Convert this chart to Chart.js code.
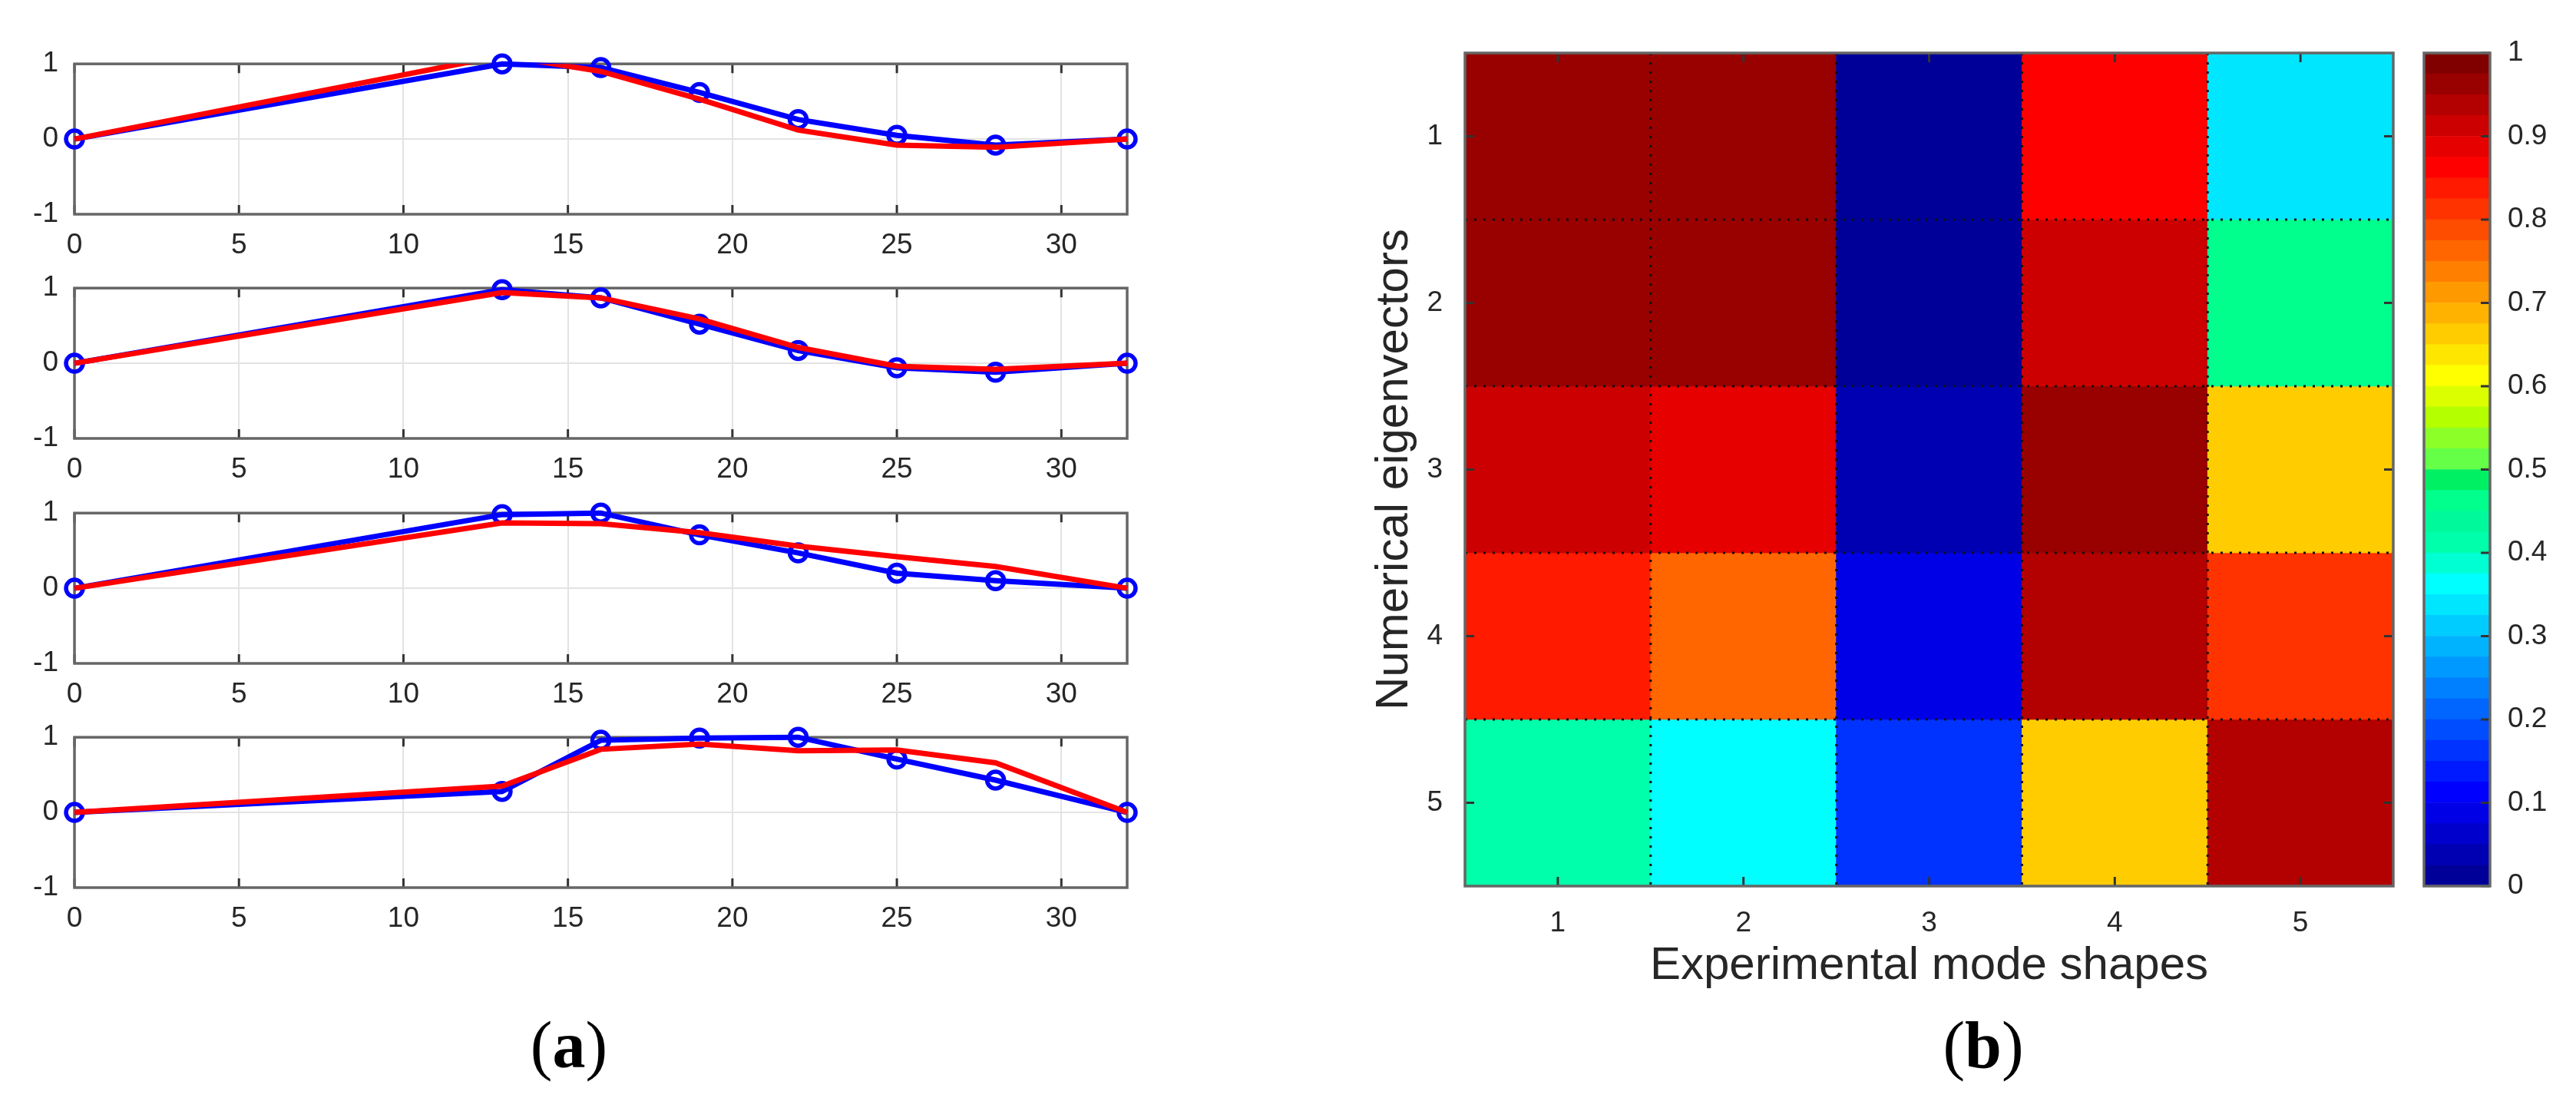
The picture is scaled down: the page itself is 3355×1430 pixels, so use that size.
<!DOCTYPE html>
<html>
<head>
<meta charset="utf-8">
<title>Mode shapes and MAC matrix</title>
<script src="https://cdn.jsdelivr.net/npm/chart.js@4.4.1/dist/chart.umd.min.js"></script>
<style>
  html, body { margin: 0; padding: 0; background: #fff; }
  body { width: 3355px; height: 1430px; position: relative; overflow: hidden; }
  canvas { position: absolute; }
  .panel-label {
    position: absolute; width: 200px; text-align: center;
    font-family: 'Liberation Serif', 'Times New Roman', serif;
    font-size: 86px; line-height: 1; color: #000;
    transform: translate(-50%, -50%);
  }
</style>
</head>
<body>
<canvas id="mode1" width="1500" height="299" style="left:0;top:40px"></canvas>
<canvas id="mode2" width="1500" height="299" style="left:0;top:332px"></canvas>
<canvas id="mode3" width="1500" height="299" style="left:0;top:625px"></canvas>
<canvas id="mode4" width="1500" height="299" style="left:0;top:917px"></canvas>
<canvas id="mac" width="1480" height="1320" style="left:1700px;top:0"></canvas>
<canvas id="colorbar" width="215" height="1320" style="left:3140px;top:0"></canvas>
<div class="panel-label" style="left:741px;top:1361px">(<b>a</b>)</div>
<div class="panel-label" style="left:2583px;top:1361px">(<b>b</b>)</div>

<script>
// stations along the structure where the mode shapes are sampled
const stations = [0, 13, 16, 19, 22, 25, 28, 32];

// blue = measured (with markers), red = numerical
const measured1 = [0, 1.00, 0.95, 0.62, 0.26, 0.05, -0.08, 0];
const numerical1 = [0, 1.11, 0.90, 0.53, 0.12, -0.08, -0.11, 0];
const measured2 = [0, 0.98, 0.87, 0.52, 0.17, -0.06, -0.12, 0];
const numerical2 = [0, 0.94, 0.87, 0.59, 0.21, -0.04, -0.08, 0];
const measured3 = [0, 0.98, 1.00, 0.71, 0.47, 0.20, 0.10, 0];
const numerical3 = [0, 0.87, 0.86, 0.74, 0.56, 0.42, 0.29, 0];
const measured4 = [0, 0.28, 0.96, 0.99, 1.00, 0.71, 0.43, 0];
const numerical4 = [0, 0.35, 0.84, 0.91, 0.82, 0.83, 0.66, 0];

const xTicks = [0, 5, 10, 15, 20, 25, 30];
const yTicks = [-1, 0, 1];

// MAC values: rows = numerical eigenvectors, columns = experimental mode shapes
const modeLabels = ['1', '2', '3', '4', '5'];
const mac1 = [0.96, 0.96, 0.01, 0.86, 0.34];
const mac2 = [0.96, 0.96, 0.01, 0.91, 0.46];
const mac3 = [0.91, 0.89, 0.04, 0.96, 0.66];
const mac4 = [0.84, 0.76, 0.09, 0.94, 0.81];
const mac5 = [0.41, 0.36, 0.16, 0.66, 0.94];
const colorbarTicks = [0, 0.1, 0.2, 0.3, 0.4, 0.5, 0.6, 0.7, 0.8, 0.9, 1];

const FONT = "'Liberation Sans', Arial, Helvetica, sans-serif";
const TEXT = '#262626';
Chart.defaults.font.family = FONT;
Chart.defaults.color = TEXT;

// MATLAB style jet colormap with m bands
function jet(m) {
    const n = Math.ceil(m / 4);
    const u = [];
    for (let i = 1; i <= n; i++) u.push(i / n);
    for (let i = 1; i < n; i++) u.push(1);
    for (let i = n; i >= 1; i--) u.push(i / n);
    const g0 = Math.ceil(n / 2) - (m % 4 === 1 ? 1 : 0);
    const cmap = Array.from({ length: m }, () => [0, 0, 0]);
    u.forEach((val, k) => {
        const g = g0 + k + 1;
        const r = g + n;
        const b = g - n;
        if (g >= 1 && g <= m) cmap[g - 1][1] = val;
        if (r >= 1 && r <= m) cmap[r - 1][0] = val;
        if (b >= 1 && b <= m) cmap[b - 1][2] = val;
    });
    return cmap;
}

const palette = jet(40).map(c => 'rgb(' + c.map(v => Math.round(v * 255)).join(',') + ')');
// the printed figure shows these greens without the blue/red mix
const toneFix = { 16: '#00ffd2', 17: '#00ffaa', 18: '#00fa9b', 19: '#00ff8c', 20: '#00f064',
                  21: '#64ff46', 22: '#8cff28', 23: '#b4ff00', 24: '#dcff00' };
Object.entries(toneFix).forEach(([band, c]) => { palette[band - 1] = c; });
const colorFor = v => palette[Math.min(palette.length - 1, Math.floor(v * palette.length))];

// box, inward tick marks and dotted cell borders
function drawFrame(chart, opts) {
    const { ctx, chartArea: a, scales } = chart;
    const len = 12;
    ctx.save();
    if (opts.dotted) {
        ctx.strokeStyle = '#111';
        ctx.lineWidth = 3;
        ctx.setLineDash([3, 9]);
        ctx.beginPath();
        const x = scales.x;
        for (let i = 0; i < x.ticks.length - 1; i++) {
            const px = (x.getPixelForTick(i) + x.getPixelForTick(i + 1)) / 2;
            ctx.moveTo(px, a.top);
            ctx.lineTo(px, a.bottom);
        }
        scales.y.ticks.slice(0, -1).forEach(t => {
            const py = scales.y.getPixelForValue(t.value + 0.5);
            ctx.moveTo(a.left, py);
            ctx.lineTo(a.right, py);
        });
        ctx.stroke();
        ctx.setLineDash([]);
    }
    ctx.strokeStyle = '#333';
    ctx.lineWidth = 3;
    ctx.beginPath();
    if (opts.xTicks) {
        scales.x.ticks.forEach((t, i) => {
            const px = scales.x.getPixelForTick(i);
            ctx.moveTo(px, a.top); ctx.lineTo(px, a.top + len);
            ctx.moveTo(px, a.bottom); ctx.lineTo(px, a.bottom - len);
        });
    }
    if (opts.yTicks) {
        scales.y.ticks.forEach((t, i) => {
            const py = scales.y.getPixelForTick(i);
            if (opts.yTicks !== 'right') { ctx.moveTo(a.left, py); ctx.lineTo(a.left + len, py); }
            ctx.moveTo(a.right, py); ctx.lineTo(a.right - len, py);
        });
    }
    ctx.stroke();
    ctx.strokeStyle = '#666';
    ctx.lineWidth = 3.5;
    ctx.strokeRect(a.left, a.top, a.right - a.left, a.bottom - a.top);
    ctx.restore();
}

const framePlugin = {
    id: 'frame',
    beforeDatasetsDraw(chart, args, opts) { if (!opts.onTop) drawFrame(chart, opts); },
    afterDatasetsDraw(chart, args, opts) { if (opts.onTop) drawFrame(chart, opts); }
};

const tickFont = size => ({ family: FONT, size: size });

function modeChart(id, measured, numerical) {
    new Chart(document.getElementById(id), {
        type: 'line',
        data: {
            datasets: [
                {
                    data: stations.map((x, i) => ({ x: x, y: numerical[i] })),
                    borderColor: '#ff0000',
                    borderWidth: 7,
                    pointRadius: 0,
                    order: 0,
                    clip: { left: 10, top: 0, right: 10, bottom: 0 }
                },
                {
                    data: stations.map((x, i) => ({ x: x, y: measured[i] })),
                    borderColor: '#0000ff',
                    borderWidth: 7,
                    pointRadius: 11,
                    pointBorderWidth: 5.5,
                    pointBorderColor: '#0000ff',
                    pointBackgroundColor: 'rgba(0,0,0,0)',
                    order: 1,
                    clip: false
                }
            ]
        },
        options: {
            responsive: false,
            animation: false,
            devicePixelRatio: 1,
            layout: { padding: { top: 30, right: 32, left: 0, bottom: 0 } },
            plugins: {
                legend: { display: false },
                tooltip: { enabled: false },
                frame: { xTicks: true }
            },
            scales: {
                x: {
                    type: 'linear',
                    min: 0,
                    max: 32,
                    afterBuildTicks: s => { s.ticks = xTicks.map(v => ({ value: v })); },
                    afterFit: s => { s.height = 60; },
                    grid: { color: '#e3e3e3', lineWidth: 2, drawTicks: false },
                    border: { display: false },
                    ticks: { font: tickFont(37), color: TEXT, padding: 19, maxRotation: 0, autoSkip: false }
                },
                y: {
                    min: -1,
                    max: 1,
                    afterBuildTicks: s => { s.ticks = yTicks.map(v => ({ value: v })); },
                    afterFit: s => { s.width = 97; },
                    grid: { color: '#e3e3e3', lineWidth: 2, drawTicks: false },
                    border: { display: false },
                    ticks: { font: tickFont(37), color: TEXT, padding: 21 }
                }
            }
        },
        plugins: [framePlugin]
    });
}

modeChart('mode1', measured1, numerical1);
modeChart('mode2', measured2, numerical2);
modeChart('mode3', measured3, numerical3);
modeChart('mode4', measured4, numerical4);

// MAC matrix drawn as floating bars, one dataset per row
const macRows = [mac1, mac2, mac3, mac4, mac5];
new Chart(document.getElementById('mac'), {
    type: 'bar',
    data: {
        labels: modeLabels,
        datasets: macRows.map((row, r) => ({
            data: row.map(() => [r + 0.5, r + 1.5]),
            backgroundColor: row.map(colorFor),
            borderWidth: 0,
            grouped: false,
            barPercentage: 1,
            categoryPercentage: 1
        }))
    },
    options: {
        responsive: false,
        animation: false,
        devicePixelRatio: 1,
        layout: { padding: { top: 69, right: 63, left: 0, bottom: 0 } },
        plugins: {
            legend: { display: false },
            tooltip: { enabled: false },
            frame: { onTop: true, dotted: true, xTicks: true, yTicks: 'both' }
        },
        scales: {
            x: {
                grid: { display: false },
                border: { display: false },
                afterFit: s => { s.height = 166; },
                ticks: { font: tickFont(37), color: TEXT, padding: 19 },
                title: {
                    display: true,
                    text: 'Experimental mode shapes',
                    color: TEXT,
                    font: { family: FONT, size: 60 },
                    padding: { top: 0, bottom: 26 }
                }
            },
            y: {
                type: 'linear',
                reverse: true,
                min: 0.5,
                max: 5.5,
                afterBuildTicks: s => { s.ticks = modeLabels.map(l => ({ value: Number(l) })); },
                afterFit: s => { s.width = 208; },
                grid: { display: false },
                border: { display: false },
                ticks: { font: tickFont(37), color: TEXT, padding: 21, callback: v => String(v) },
                title: {
                    display: true,
                    text: 'Numerical eigenvectors',
                    color: TEXT,
                    font: { family: FONT, size: 60 },
                    padding: { top: 80, bottom: 0 }
                }
            }
        }
    },
    plugins: [framePlugin]
});

// colorbar: one band per palette entry
new Chart(document.getElementById('colorbar'), {
    type: 'bar',
    data: {
        labels: [''],
        datasets: palette.map((c, i) => ({
            data: [[i / palette.length, (i + 1) / palette.length]],
            backgroundColor: c,
            borderWidth: 0,
            grouped: false,
            barPercentage: 1,
            categoryPercentage: 1
        }))
    },
    options: {
        responsive: false,
        animation: false,
        devicePixelRatio: 1,
        layout: { padding: { top: 69, right: 0, left: 17, bottom: 166 } },
        plugins: {
            legend: { display: false },
            tooltip: { enabled: false },
            frame: { onTop: true, yTicks: 'right' }
        },
        scales: {
            x: { display: false },
            y: {
                position: 'right',
                min: 0,
                max: 1,
                afterBuildTicks: s => { s.ticks = colorbarTicks.map(v => ({ value: v })); },
                afterFit: s => { s.width = 112; },
                grid: { display: false },
                border: { display: false },
                ticks: { font: tickFont(37), color: TEXT, padding: 15, callback: v => String(Math.round(v * 10) / 10) }
            }
        }
    },
    plugins: [framePlugin]
});
</script>
</body>
</html>
